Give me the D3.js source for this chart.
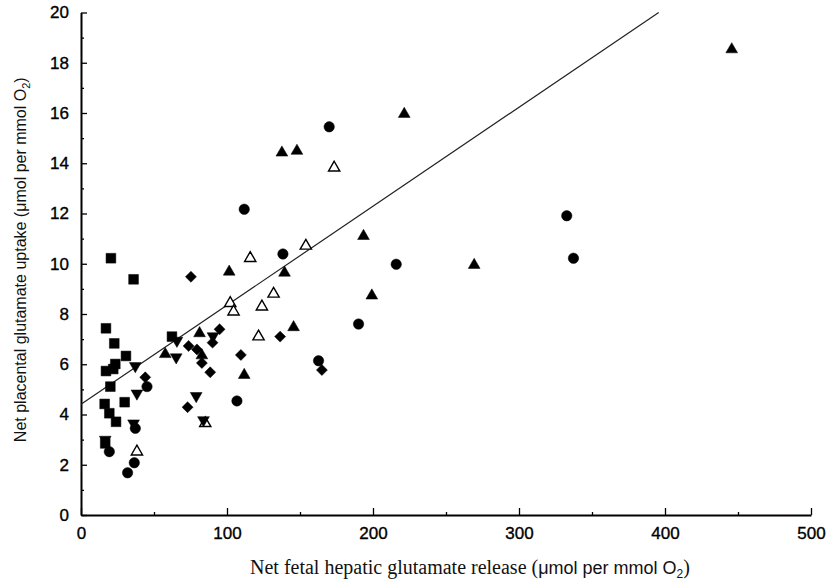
<!DOCTYPE html>
<html>
<head>
<meta charset="utf-8">
<script src="https://cdn.jsdelivr.net/npm/d3@7"></script>
<style>
  body { margin: 0; background: #fff; }
  svg { display: block; }
  .tick text { font-family: "Liberation Sans", Arial, sans-serif; font-size: 17px; fill: #000; stroke: #000; stroke-width: 0.35; }
</style>
</head>
<body>
<svg width="827" height="585"></svg>
<script>
// [x, y] per group
const squares = [[20.5,10.22],[36.0,9.38],[17.1,7.43],[22.8,6.83],[30.8,6.33],[23.5,6.01],[17.1,5.73],[22.1,5.81],
  [20.1,5.11],[29.9,4.49],[16.2,4.42],[19.4,4.05],[24.0,3.71],[16.6,2.85],[62.3,7.10]];
const circles = [[19.4,2.52],[31.9,1.68],[36.5,2.08],[37.2,3.45],[45.2,5.11],[106.8,4.54],[111.8,12.17],[170.0,15.45],
  [138.3,10.39],[215.9,9.98],[190.1,7.60],[162.7,6.14],[332.7,11.91],[337.3,10.22]];
const downTris = [[37.2,5.93],[38.3,4.84],[36.0,3.65],[16.6,3.0],[65.7,6.94],[65.2,6.28],[78.9,4.74],[83.9,3.78],[90.4,7.12]];
const diamonds = [[44.0,5.48],[75.3,9.48],[73.7,6.73],[79.4,6.59],[82.8,6.05],[88.5,5.68],[90.1,6.86],[94.9,7.39],
  [73.0,4.29],[109.5,6.37],[136.4,7.10],[165.0,5.77]];
const upTris = [[57.7,6.40],[81.2,7.23],[82.8,6.35],[101.5,9.68],[111.8,5.57],[137.6,14.42],[147.9,14.49],[139.4,9.64],
  [145.6,7.47],[193.5,11.10],[199.2,8.73],[221.4,15.96],[269.3,9.95],[445.7,18.53]];
const openTris = [[38.3,2.52],[85.1,3.65],[102.2,8.43],[104.5,8.09],[115.9,10.22],[123.9,8.29],[121.6,7.10],
  [131.9,8.80],[154.0,10.71],[173.4,13.82]];
const fitLine = { intercept: 4.41, slope: 0.0394 };
const xTicks = [0, 100, 200, 300, 400, 500];
const yTicks = [0, 2, 4, 6, 8, 10, 12, 14, 16, 18, 20];

const svg = d3.select("svg");
const x = d3.scaleLinear().domain([0, 500]).range([81, 811]);
const y = d3.scaleLinear().domain([0, 20]).range([515, 12.5]);

// axes: ticks point inward
svg.append("g").attr("transform", `translate(0,${y(0)})`)
  .call(d3.axisBottom(x).tickValues(xTicks).tickSize(-7).tickPadding(12).tickSizeOuter(0));
svg.append("g").attr("transform", `translate(0,${y(0)})`)
  .call(d3.axisBottom(x).tickValues([50,150,250,350,450]).tickSize(-3).tickFormat("").tickSizeOuter(0))
  .select(".domain").remove();
svg.append("g").attr("transform", `translate(${x(0)},0)`)
  .call(d3.axisLeft(y).tickValues(yTicks).tickSize(-6).tickPadding(12).tickSizeOuter(0));
svg.append("g").attr("transform", `translate(${x(0)},0)`)
  .call(d3.axisLeft(y).tickValues(d3.range(1, 20, 2)).tickSize(-3).tickFormat("").tickSizeOuter(0))
  .select(".domain").remove();
svg.selectAll(".domain").attr("stroke", "#000").attr("stroke-width", 2);
svg.selectAll(".tick line").attr("stroke", "#000").attr("stroke-width", 1.3);

// regression line, up to the top of the plot
const xEnd = (20 - fitLine.intercept) / fitLine.slope;
svg.append("line")
  .attr("x1", x(0)).attr("y1", y(fitLine.intercept))
  .attr("x2", x(xEnd)).attr("y2", y(20))
  .attr("stroke", "#222").attr("stroke-width", 1.2);

const plot = (data, type, size, rot, open) => {
  svg.append("g").selectAll("path").data(data).enter().append("path")
    .attr("d", d3.symbol().type(type).size(size))
    .attr("transform", d => `translate(${x(d[0])},${y(d[1])}) rotate(${rot})`)
    .attr("fill", open ? "#fff" : "#000")
    .attr("stroke", "#000")
    .attr("stroke-width", open ? 1.4 : 0.5);
};
plot(squares, d3.symbolSquare, 95, 0);
plot(circles, d3.symbolCircle, 85, 0);
plot(diamonds, d3.symbolSquare, 60, 45);
plot(upTris, d3.symbolTriangle, 60, 0);
plot(openTris, d3.symbolTriangle, 55, 0, true);
plot(downTris, d3.symbolTriangle, 60, 180);

// axis titles
svg.append("text")
  .attr("transform", `translate(26,${(y(0) + y(20)) / 2 - 4}) rotate(-90)`)
  .attr("text-anchor", "middle")
  .style("font-family", "'Liberation Sans', Arial, sans-serif").style("font-size", "16px").attr("fill", "#111")
  .call(t => {
    t.append("tspan").text("Net placental glutamate uptake (\u03bcmol per mmol O");
    t.append("tspan").attr("dy", 4).style("font-size", "11px").text("2");
    t.append("tspan").attr("dy", -4).text(")");
  });
svg.append("text")
  .attr("x", 470).attr("y", 574)
  .attr("text-anchor", "middle").attr("fill", "#111")
  .style("font-size", "20px")
  .call(t => {
    t.append("tspan").style("font-family", "'Liberation Serif', 'Times New Roman', serif").text("Net fetal hepatic glutamate release (");
    t.append("tspan").style("font-family", "'Liberation Sans', Arial, sans-serif").style("font-size", "18px").text("\u03bcmol per mmol O");
    t.append("tspan").attr("dy", 4).style("font-family", "'Liberation Sans', Arial, sans-serif").style("font-size", "12px").text("2");
    t.append("tspan").attr("dy", -4).style("font-family", "'Liberation Serif', serif").text(")");
  });
</script>
</body>
</html>
